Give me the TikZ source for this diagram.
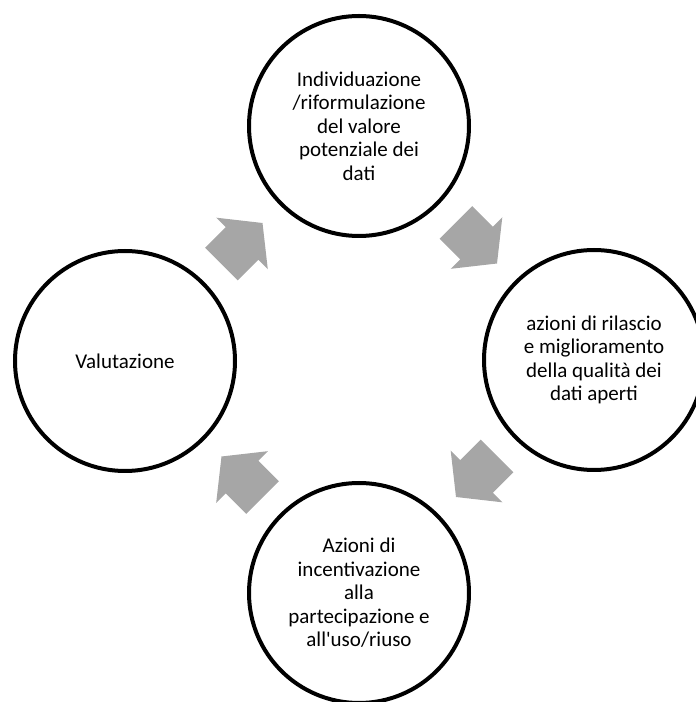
\documentclass[tikz,border=0pt]{standalone}
\usepackage{fontspec}
\setmainfont{Carlito}
\usetikzlibrary{calc}
\definecolor{arrowgray}{RGB}{166,166,166}
\begin{document}
\begin{tikzpicture}[x=1pt,y=1pt,
  stage/.style={circle, draw=black, line width=4pt, minimum size=220pt,
    inner sep=0pt, align=center, font=\fontsize{21}{23.5}\selectfont},
  blockarrow/.pic={
    \fill[arrowgray] (-29,-23) -- (0,-23) -- (0,-36.5) -- (29,0)
      -- (0,36.5) -- (0,23) -- (-29,23) -- cycle;
  }]
\useasboundingbox (0,0) rectangle (696,702);
\clip (0,0) rectangle (696,702);

% the four stages of the cycle
\node[stage] (top) at (359,576)
  {Individuazione\\/riformulazione\\del valore\\potenziale dei\\dati};
\node[stage] (right) at (594,342)
  {azioni di rilascio\\e miglioramento\\della qualità dei\\dati aperti};
\node[stage] (bottom) at (359,109)
  {Azioni di\\incentivazione\\alla\\partecipazione e\\all\textquotesingle uso/riuso};
\node[stage] (left) at (125,341) {Valutazione};

% block arrows, clockwise, halfway between neighbouring stages
\coordinate (a1) at ($(left)!0.5!(top)$);
\coordinate (a2) at ($(top)!0.5!(right)$);
\coordinate (a3) at ($(right)!0.5!(bottom)$);
\coordinate (a4) at ($(bottom)!0.5!(left)$);
\pic[rotate=45]   at (a1) {blockarrow};
\pic[rotate=-45]  at (a2) {blockarrow};
\pic[rotate=-135] at (a3) {blockarrow};
\pic[rotate=135]  at (a4) {blockarrow};
\end{tikzpicture}
\end{document}
